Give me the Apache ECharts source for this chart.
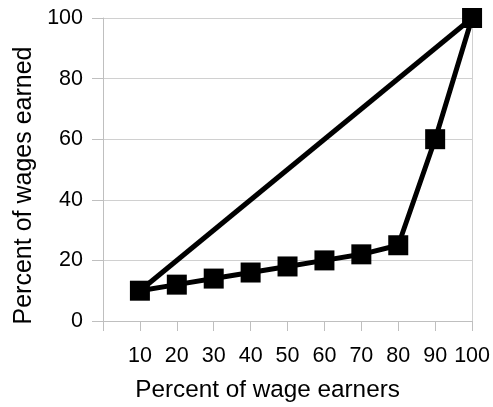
<!DOCTYPE html>
<html><head><meta charset="utf-8">
<script src="https://cdn.jsdelivr.net/npm/echarts@6/dist/echarts.min.js"></script>
<style>html,body{margin:0;padding:0;background:#fff}#c{width:493px;height:407px}</style>
</head><body><div id="c"></div>
<script>
var earners = [10, 20, 30, 40, 50, 60, 70, 80, 90, 100];
var wages = [10, 12, 14, 16, 18, 20, 22, 25, 60, 100];
var equalityX = [10, 100];
var equalityY = [10, 100];
var xTicks = [0, 10, 20, 30, 40, 50, 60, 70, 80, 90, 100];
var yTicks = [0, 20, 40, 60, 80, 100];

var chart = echarts.init(document.getElementById('c'), null, {renderer: 'canvas'});
var font = 'Liberation Sans, Arial, sans-serif';
chart.setOption({
  animation: false,
  grid: {left: 103, right: 18, top: 18, bottom: 84},
  xAxis: {
    type: 'value', min: xTicks[0], max: xTicks[xTicks.length - 1], interval: 10,
    name: 'Percent of wage earners', nameLocation: 'middle', nameGap: 57,
    nameTextStyle: {fontFamily: font, fontSize: 24.3, color: '#000', padding: [0, 40, 0, 0]},
    axisLine: {show: true, lineStyle: {color: '#bfbfbf', width: 1}},
    axisTick: {show: true, length: 10, lineStyle: {color: '#bfbfbf'}},
    axisLabel: {fontFamily: font, fontSize: 21.5, color: '#000', margin: 24,
      formatter: function (v) { return v === 0 ? '' : String(v); }},
    splitLine: {show: false}
  },
  yAxis: [{
    type: 'value', min: yTicks[0], max: yTicks[yTicks.length - 1], interval: 20,
    name: 'Percent of wages earned', nameLocation: 'middle', nameGap: 63,
    nameTextStyle: {fontFamily: font, fontSize: 25, color: '#000', padding: [0, 32, 0, 0]},
    axisLine: {show: true, lineStyle: {color: '#bfbfbf', width: 1}},
    axisTick: {show: true, length: 11, lineStyle: {color: '#bfbfbf'}},
    axisLabel: {fontFamily: font, fontSize: 21.5, color: '#000', margin: 20},
    splitLine: {show: true, lineStyle: {color: '#d0d0d0', width: 1}}
  }, {
    type: 'value', position: 'right', min: 0, max: 100, interval: 20,
    axisLine: {show: true, lineStyle: {color: '#d0d0d0', width: 1}},
    axisTick: {show: false}, axisLabel: {show: false}, splitLine: {show: false}
  }],
  series: [{
    type: 'line',
    data: equalityX.map(function (x, i) { return [x, equalityY[i]]; }),
    showSymbol: false, symbol: 'none',
    lineStyle: {color: '#000', width: 5},
    z: 2
  }, {
    type: 'line',
    data: earners.map(function (x, i) { return [x, wages[i]]; }),
    symbol: 'rect', symbolSize: 20,
    itemStyle: {color: '#000'},
    lineStyle: {color: '#000', width: 5},
    z: 3
  }]
});
</script></body></html>
